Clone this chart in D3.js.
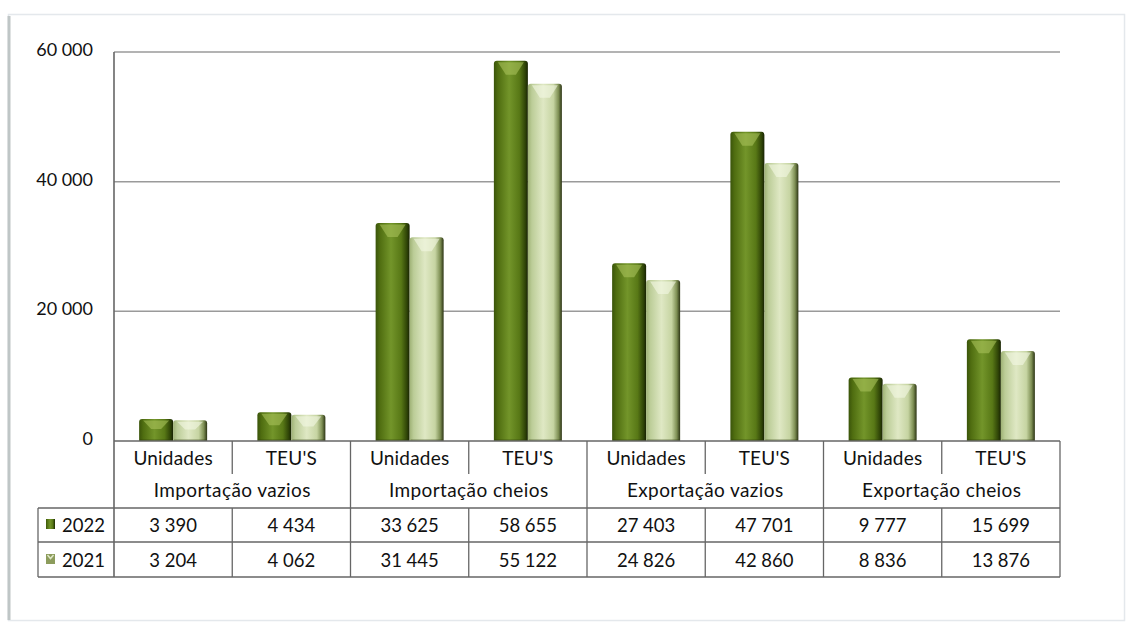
<!DOCTYPE html>
<html><head><meta charset="utf-8">
<script src="https://cdn.jsdelivr.net/npm/d3@7"></script>
<style>
html,body{margin:0;padding:0;background:#fff;}
svg{display:block;font-family:Lato,"Open Sans",sans-serif;}
</style></head>
<body>
<svg id="c" width="1132" height="627"></svg>
<script>
const subCategories = ["Unidades","TEU'S","Unidades","TEU'S","Unidades","TEU'S","Unidades","TEU'S"];
const groups = ["Importação vazios","Importação cheios","Exportação vazios","Exportação cheios"];
const series = ["2022","2021"];
const values2022 = [3390,4434,33625,58655,27403,47701,9777,15699];
const values2021 = [3204,4062,31445,55122,24826,42860,8836,13876];
const yTicks = [0,20000,40000,60000];

const svg = d3.select("#c");
const L = 114, R = 1060, T = 52, B = 441;
const fmt = d3.formatLocale({decimal:",",thousands:" ",grouping:[3],currency:["",""]}).format(",d");

const defs = svg.append("defs");
function grad(id, stops){
  const g = defs.append("linearGradient").attr("id",id).attr("x1","0").attr("x2","1").attr("y1","0").attr("y2","0");
  stops.forEach(s=>g.append("stop").attr("offset",s[0]).attr("stop-color",s[1]));
}
grad("g22",[[0,"#3a540a"],[0.12,"#4f6d10"],[0.45,"#73952a"],[0.75,"#587816"],[0.92,"#2f4407"],[1,"#182303"]]);
grad("g21",[[0,"#9fb276"],[0.12,"#bccd98"],[0.45,"#dfe8c4"],[0.75,"#c6d4a2"],[0.9,"#7e8f54"],[1,"#2c3414"]]);

// outer frame
svg.append("rect").attr("x",8.5).attr("y",14.5).attr("width",1116).attr("height",606)
  .attr("fill","none").attr("stroke","#e4e8ec").attr("stroke-width",1.5);
svg.append("line").attr("x1",9).attr("x2",9).attr("y1",16).attr("y2",620).attr("stroke","#bfc6c6").attr("stroke-width",3);

const x = d3.scaleBand().domain(d3.range(subCategories.length)).range([L,R]);
const y = d3.scaleLinear().domain([0,60000]).range([B,T]);

// gridlines
svg.append("g").selectAll("line").data(yTicks.filter(d=>d>0)).join("line")
  .attr("x1",L).attr("x2",R).attr("y1",d=>y(d)).attr("y2",d=>y(d))
  .attr("stroke","#9a9a9a").attr("stroke-width",1.5);

// y axis labels
const yAxis = d3.axisLeft(y).tickValues(yTicks).tickFormat(fmt).tickSize(0).tickPadding(21);
const ya = svg.append("g").attr("transform",`translate(${L},0)`).call(yAxis);
ya.select(".domain").remove();
ya.selectAll("text").attr("font-size",18).attr("fill","#111").attr("font-family","Lato,sans-serif").attr("dy","0.2em");

// bars
const bw = 34;
function drawBars(vals, gid, off, capCol){
  const g = svg.append("g");
  vals.forEach((v,i)=>{
    const cx = x(i) + x.bandwidth()/2;
    const x0 = cx + off;
    const y0 = y(v), h = B - y0;
    g.append("path")
      .attr("d",`M${x0},${B} L${x0},${y0+3} Q${x0},${y0} ${x0+3},${y0} L${x0+bw-3},${y0} Q${x0+bw},${y0} ${x0+bw},${y0+3} L${x0+bw},${B} Z`)
      .attr("fill",`url(#${gid})`);
    const ch = Math.min(14, h*0.45);
    g.append("path")
      .attr("d",`M${x0+4},${y0+1.5} L${x0+bw-4},${y0+1.5} L${x0+bw/2+5},${y0+ch} L${x0+bw/2-5},${y0+ch} Z`)
      .attr("fill",capCol).attr("opacity",0.6);
    g.append("path")
      .attr("d",`M${x0+1},${B-1} L${x0+bw-1},${B-1}`)
      .attr("stroke","#2a3a08").attr("stroke-width",1).attr("opacity",0.5);
  });
}
drawBars(values2022,"g22",-bw,"#a9c25a");
drawBars(values2021,"g21",0,"#f4f8e4");

// table
const tb = svg.append("g");
const rowY = [B, 475, 508, 542, 577];
const tl = 38;
const line = (x1,y1,x2,y2,w=1.3)=>tb.append("line").attr("x1",x1).attr("y1",y1).attr("x2",x2).attr("y2",y2).attr("stroke","#666").attr("stroke-width",w);
line(L,B,R,B,1.6);
line(L,T,L,rowY[4],1.6);
line(R,B,R,rowY[4]);
line(tl,rowY[2],R,rowY[2]);
line(tl,rowY[3],R,rowY[3]);
line(tl,rowY[4],R,rowY[4]);
line(tl,rowY[2],tl,rowY[4]);
for(let i=1;i<subCategories.length;i++){
  const xx = x(i);
  if(i%2===0) line(xx,B,xx,rowY[4]);
  else { line(xx,B,xx,B+33); line(xx,rowY[2],xx,rowY[4]); }
}
const txt = (s,xx,yy,anchor="middle",fs=18,ls=0)=>tb.append("text").attr("x",xx).attr("y",yy).attr("text-anchor",anchor)
  .attr("font-size",fs).attr("letter-spacing",ls).attr("fill","#111").text(s);
subCategories.forEach((s,i)=>txt(s, x(i)+x.bandwidth()/2, 465,"middle",19,0.2));
groups.forEach((s,i)=>txt(s, x(i*2)+x.bandwidth(), 497,"middle",19,0.4));
values2022.forEach((v,i)=>txt(fmt(v), x(i)+x.bandwidth()/2, 532,"middle",18.5));
values2021.forEach((v,i)=>txt(fmt(v), x(i)+x.bandwidth()/2, 567,"middle",18.5));
tb.append("rect").attr("x",46).attr("y",519).attr("width",9).attr("height",10).attr("fill","url(#g22)");
tb.append("rect").attr("x",46).attr("y",554).attr("width",9).attr("height",10).attr("fill","#8c9c5c");
tb.append("path").attr("d","M47.5,555 L50.5,558.5 L53.5,555").attr("stroke","#e0e8c8").attr("stroke-width",1.5).attr("fill","none");
txt(series[0],62,532,"start",18.5);
txt(series[1],62,567,"start",18.5);
</script>
</body></html>
